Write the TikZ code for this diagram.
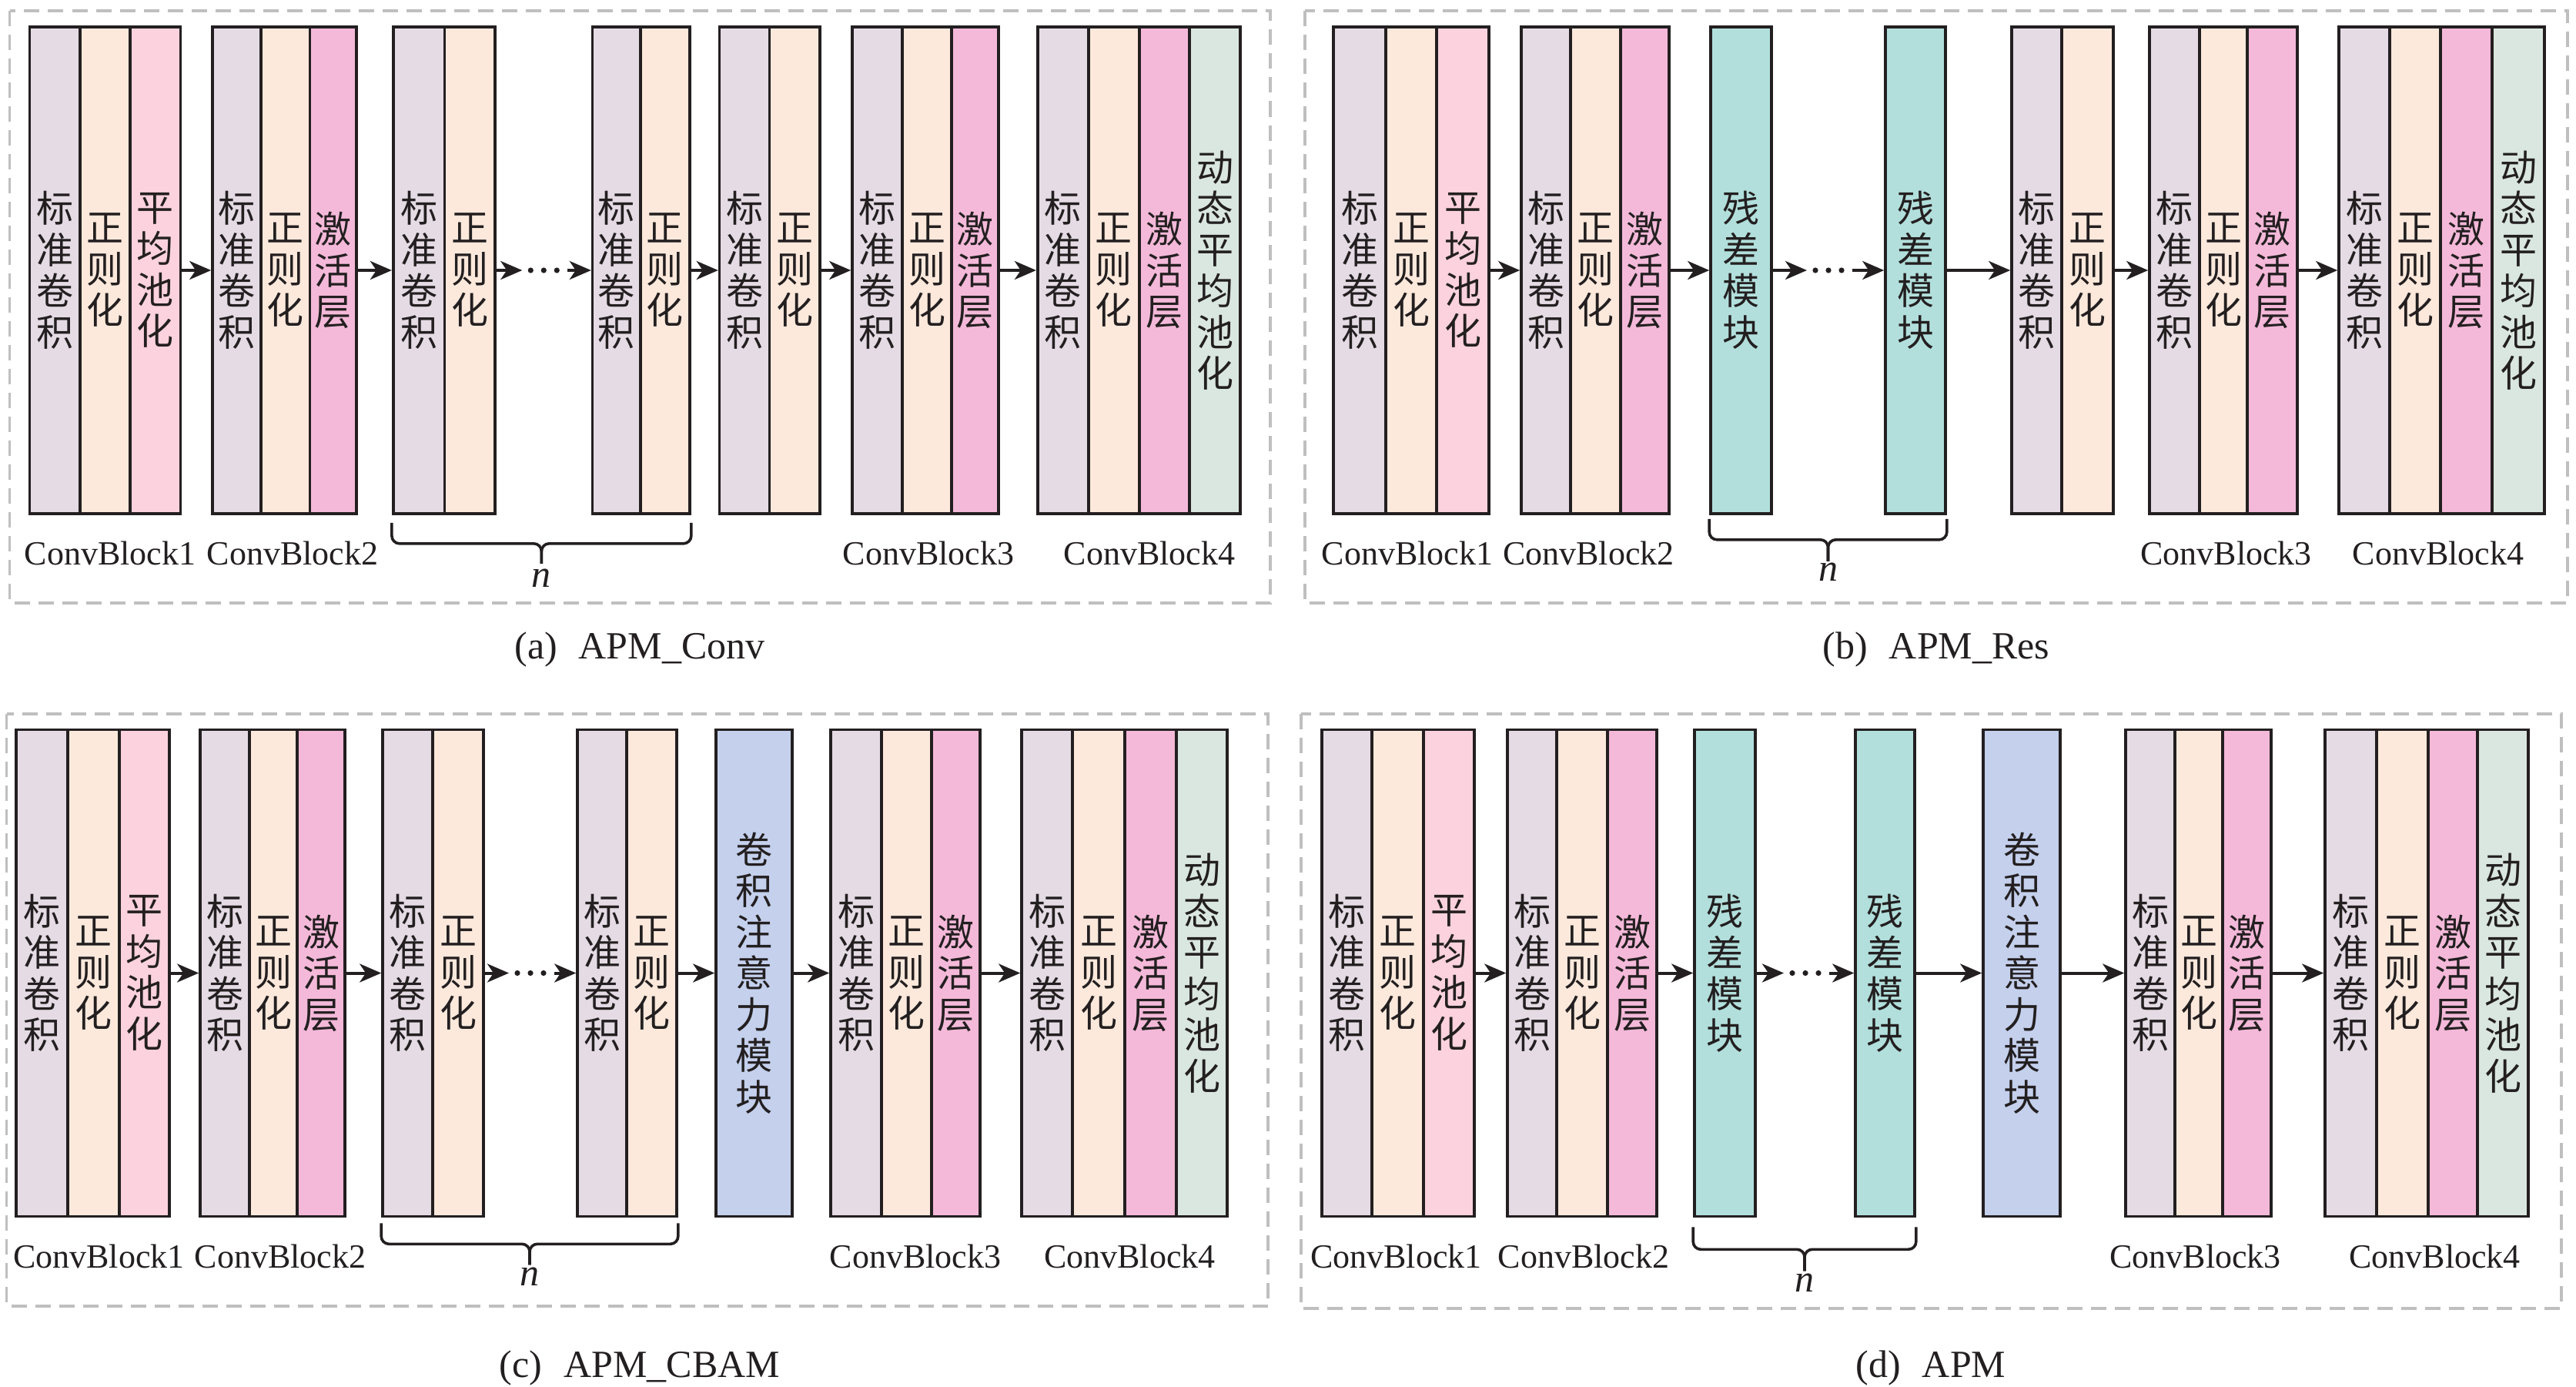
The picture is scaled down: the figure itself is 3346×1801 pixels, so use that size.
\documentclass[tikz,border=0pt]{standalone}
\usepackage{fontspec}
\setmainfont{Liberation Serif}
\newfontfamily\cjk{Noto Sans CJK SC}
\usetikzlibrary{arrows.meta,calc}
\definecolor{bd}{HTML}{231F20}
\definecolor{dgray}{HTML}{BFBFBF}
\definecolor{lav}{HTML}{E4DBE4}
\definecolor{peach}{HTML}{FDE9DC}
\definecolor{lpink}{HTML}{FBD2DD}
\definecolor{pink}{HTML}{F4B9D9}
\definecolor{green}{HTML}{DAE7E0}
\definecolor{teal}{HTML}{B2DFDC}
\definecolor{peri}{HTML}{C4D0EC}
\newcommand\cjkfont{\cjk\fontsize{48}{53.5}\selectfont}
\newcommand\labfont{\fontsize{44}{50}\selectfont}
\newcommand\nfont{\fontsize{50}{56}\selectfont\itshape}
\newcommand\capfont{\fontsize{50}{56}\selectfont}
\newcommand\tBZ{标\\准\\卷\\积}
\newcommand\tZZ{正\\则\\化}
\newcommand\tPJ{平\\均\\池\\化}
\newcommand\tJH{激\\活\\层}
\newcommand\tDT{动\\态\\平\\均\\池\\化}
\newcommand\tCC{残\\差\\模\\块}
\newcommand\tZY{卷\\积\\注\\意\\力\\模\\块}
\tikzset{
  colbox/.style={draw=bd,line width=3.6pt,inner sep=0pt,minimum height=632pt,align=center,font=\cjkfont,text=bd},
  arr/.style={-{Stealth[length=28pt,width=24pt,inset=8pt]},line width=4pt,draw=bd},
  dashbox/.style={draw=dgray,line width=3.5pt,dash pattern=on 20pt off 11pt},
  lab/.style={font=\labfont,text=bd,anchor=base,inner sep=0pt},
  nlab/.style={font=\nfont,text=bd,anchor=base,inner sep=0pt},
  captxt/.style={font=\capfont,text=bd,anchor=base,inner sep=0pt},
  brc/.style={draw=bd,line width=3.6pt,rounded corners=10pt},
}
\newcommand\apmcol[6]{\node[colbox,fill=#5,minimum width={(#3-#2)*1pt}] (#1) at ({(#2+#3)/2},#4) {#6};}
\newcommand\apmdots[2]{%
  \coordinate (m#1) at ($(#1.east)!0.5!(#2.west)$);
  \draw[arr] (#1.east) -- ($(m#1)+(-28,0)$);
  \foreach \d in {-17,0,17} \fill[bd] ($(m#1)+(\d,0)$) circle (3.6pt);
  \draw[arr] ($(m#1)+(31,0)$) -- (#2.west);}
\newcommand\apmbrace[6]{%
  \coordinate (#1bt) at ($(#1.south west)+(0,#3)$);
  \coordinate (#1bh) at ($(#1.south west)+(0,#4)$);
  \coordinate (#2bt) at ($(#2.south east)+(0,#3)$);
  \coordinate (#2bh) at ($(#2.south east)+(0,#4)$);
  \coordinate (#1bm) at ($(#1bh)!0.5!(#2bh)$);
  \coordinate (#1tip) at ($(#1bm)+(0,#5-#4)$);
  \draw[brc] (#1bt) -- (#1bh) -- (#1bm) -- (#1tip);
  \draw[brc] (#2bt) -- (#2bh) -- (#1bm) -- (#1tip);
  \node[nlab] (#1n) at ($(#1tip)+(0,#6)$) {n};}
\begin{document}
\begin{tikzpicture}[x=1pt,y=-1pt]
\useasboundingbox (0,0) rectangle (3346,1801);
% frames
\draw[dashbox] (12.5,14) rectangle (1650,783);
\draw[dashbox] (1695,14) rectangle (3335,783);
\draw[dashbox] (8.5,927) rectangle (1647,1696);
\draw[dashbox] (1690,927) rectangle (3327,1699);
% ---------- (a) ----------
\def\yc{351}
\apmcol{A1a}{38.6}{104}{\yc}{lav}{\tBZ}
\apmcol{A1b}{104}{169}{\yc}{peach}{\tZZ}
\apmcol{A1c}{169}{234.6}{\yc}{lpink}{\tPJ}
\apmcol{A2a}{276}{339}{\yc}{lav}{\tBZ}
\apmcol{A2b}{339}{402.5}{\yc}{peach}{\tZZ}
\apmcol{A2c}{402.5}{463}{\yc}{pink}{\tJH}
\apmcol{A3a}{510.7}{577.5}{\yc}{lav}{\tBZ}
\apmcol{A3b}{577.5}{643}{\yc}{peach}{\tZZ}
\apmcol{A4a}{769.6}{831.8}{\yc}{lav}{\tBZ}
\apmcol{A4b}{831.8}{896}{\yc}{peach}{\tZZ}
\apmcol{A5a}{934.6}{999.6}{\yc}{lav}{\tBZ}
\apmcol{A5b}{999.6}{1065}{\yc}{peach}{\tZZ}
\apmcol{A6a}{1107}{1172}{\yc}{lav}{\tBZ}
\apmcol{A6b}{1172}{1236}{\yc}{peach}{\tZZ}
\apmcol{A6c}{1236}{1297}{\yc}{pink}{\tJH}
\apmcol{A7a}{1347.7}{1413.7}{\yc}{lav}{\tBZ}
\apmcol{A7b}{1413.7}{1480}{\yc}{peach}{\tZZ}
\apmcol{A7c}{1480}{1545}{\yc}{pink}{\tJH}
\apmcol{A7d}{1545}{1611}{\yc}{green}{\tDT}
\draw[arr] (A1c.east) -- (A2a.west);
\draw[arr] (A2c.east) -- (A3a.west);
\apmdots{A3b}{A4a}
\draw[arr] (A4b.east) -- (A5a.west);
\draw[arr] (A5b.east) -- (A6a.west);
\draw[arr] (A6c.east) -- (A7a.west);
\apmbrace{A3a}{A4b}{10}{37}{63}{31}
\node[lab] (A1l) at (143,733) {ConvBlock1};
\node[lab] (A2l) at (380,733) {ConvBlock2};
\node[lab] (A6l) at (1206,733) {ConvBlock3};
\node[lab] (A7l) at (1493,733) {ConvBlock4};
\node[captxt] (capA) at (831,855) {(a)\hspace{28pt}APM\_Conv};
% ---------- (b) ----------
\apmcol{B1a}{1732}{1800}{\yc}{lav}{\tBZ}
\apmcol{B1b}{1800}{1866}{\yc}{peach}{\tZZ}
\apmcol{B1c}{1866}{1934}{\yc}{lpink}{\tPJ}
\apmcol{B2a}{1976}{2040}{\yc}{lav}{\tBZ}
\apmcol{B2b}{2040}{2105}{\yc}{peach}{\tZZ}
\apmcol{B2c}{2105}{2168}{\yc}{pink}{\tJH}
\apmcol{B3a}{2222}{2301}{\yc}{teal}{\tCC}
\apmcol{B4a}{2449}{2527}{\yc}{teal}{\tCC}
\apmcol{B5a}{2613}{2678}{\yc}{lav}{\tBZ}
\apmcol{B5b}{2678}{2745}{\yc}{peach}{\tZZ}
\apmcol{B6a}{2792}{2857}{\yc}{lav}{\tBZ}
\apmcol{B6b}{2857}{2919}{\yc}{peach}{\tZZ}
\apmcol{B6c}{2919}{2984}{\yc}{pink}{\tJH}
\apmcol{B7a}{3038}{3104}{\yc}{lav}{\tBZ}
\apmcol{B7b}{3104}{3170}{\yc}{peach}{\tZZ}
\apmcol{B7c}{3170}{3237}{\yc}{pink}{\tJH}
\apmcol{B7d}{3237}{3305}{\yc}{green}{\tDT}
\draw[arr] (B1c.east) -- (B2a.west);
\draw[arr] (B2c.east) -- (B3a.west);
\apmdots{B3a}{B4a}
\draw[arr] (B4a.east) -- (B5a.west);
\draw[arr] (B5b.east) -- (B6a.west);
\draw[arr] (B6c.east) -- (B7a.west);
\apmbrace{B3a}{B4a}{5}{32}{60}{26}
\node[lab] (B1l) at (1828,733) {ConvBlock1};
\node[lab] (B2l) at (2063.5,733) {ConvBlock2};
\node[lab] (B6l) at (2891.5,733) {ConvBlock3};
\node[lab] (B7l) at (3167,733) {ConvBlock4};
\node[captxt] (capB) at (2515,855) {(b)\hspace{28pt}APM\_Res};
% ---------- (c) ----------
\def\yc{1263.5}
\apmcol{C1a}{21}{88}{\yc}{lav}{\tBZ}
\apmcol{C1b}{88}{155}{\yc}{peach}{\tZZ}
\apmcol{C1c}{155}{220}{\yc}{lpink}{\tPJ}
\apmcol{C2a}{260}{324}{\yc}{lav}{\tBZ}
\apmcol{C2b}{324}{386}{\yc}{peach}{\tZZ}
\apmcol{C2c}{386}{448}{\yc}{pink}{\tJH}
\apmcol{C3a}{497}{562}{\yc}{lav}{\tBZ}
\apmcol{C3b}{562}{628}{\yc}{peach}{\tZZ}
\apmcol{C4a}{750}{814}{\yc}{lav}{\tBZ}
\apmcol{C4b}{814}{879}{\yc}{peach}{\tZZ}
\apmcol{C5a}{930}{1029}{\yc}{peri}{\tZY}
\apmcol{C6a}{1079}{1145}{\yc}{lav}{\tBZ}
\apmcol{C6b}{1145}{1210}{\yc}{peach}{\tZZ}
\apmcol{C6c}{1210}{1273}{\yc}{pink}{\tJH}
\apmcol{C7a}{1327}{1393}{\yc}{lav}{\tBZ}
\apmcol{C7b}{1393}{1461}{\yc}{peach}{\tZZ}
\apmcol{C7c}{1461}{1528}{\yc}{pink}{\tJH}
\apmcol{C7d}{1528}{1594}{\yc}{green}{\tDT}
\draw[arr] (C1c.east) -- (C2a.west);
\draw[arr] (C2c.east) -- (C3a.west);
\apmdots{C3b}{C4a}
\draw[arr] (C4b.east) -- (C5a.west);
\draw[arr] (C5a.east) -- (C6a.west);
\draw[arr] (C6c.east) -- (C7a.west);
\apmbrace{C3a}{C4b}{7}{34}{61}{27}
\node[lab] (C1l) at (128.5,1646) {ConvBlock1};
\node[lab] (C2l) at (364,1646) {ConvBlock2};
\node[lab] (C6l) at (1189,1646) {ConvBlock3};
\node[lab] (C7l) at (1467.5,1646) {ConvBlock4};
\node[captxt] (capC) at (831,1788) {(c)\hspace{28pt}APM\_CBAM};
% ---------- (d) ----------
\apmcol{D1a}{1717}{1782}{\yc}{lav}{\tBZ}
\apmcol{D1b}{1782}{1849}{\yc}{peach}{\tZZ}
\apmcol{D1c}{1849}{1915}{\yc}{lpink}{\tPJ}
\apmcol{D2a}{1958}{2022}{\yc}{lav}{\tBZ}
\apmcol{D2b}{2022}{2088}{\yc}{peach}{\tZZ}
\apmcol{D2c}{2088}{2152}{\yc}{pink}{\tJH}
\apmcol{D3a}{2201}{2280}{\yc}{teal}{\tCC}
\apmcol{D4a}{2410}{2487}{\yc}{teal}{\tCC}
\apmcol{D5a}{2576}{2676}{\yc}{peri}{\tZY}
\apmcol{D6a}{2761}{2825}{\yc}{lav}{\tBZ}
\apmcol{D6b}{2825}{2887}{\yc}{peach}{\tZZ}
\apmcol{D6c}{2887}{2950}{\yc}{pink}{\tJH}
\apmcol{D7a}{3020}{3087}{\yc}{lav}{\tBZ}
\apmcol{D7b}{3087}{3154}{\yc}{peach}{\tZZ}
\apmcol{D7c}{3154}{3218}{\yc}{pink}{\tJH}
\apmcol{D7d}{3218}{3284}{\yc}{green}{\tDT}
\draw[arr] (D1c.east) -- (D2a.west);
\draw[arr] (D2c.east) -- (D3a.west);
\apmdots{D3a}{D4a}
\draw[arr] (D4a.east) -- (D5a.west);
\draw[arr] (D5a.east) -- (D6a.west);
\draw[arr] (D6c.east) -- (D7a.west);
\apmbrace{D3a}{D4a}{12}{41}{69}{27}
\node[lab] (D1l) at (1813.5,1646) {ConvBlock1};
\node[lab] (D2l) at (2057,1646) {ConvBlock2};
\node[lab] (D6l) at (2851.5,1646) {ConvBlock3};
\node[lab] (D7l) at (3162.5,1646) {ConvBlock4};
\node[captxt] (capD) at (2508,1788) {(d)\hspace{28pt}APM};
\end{tikzpicture}
\end{document}
